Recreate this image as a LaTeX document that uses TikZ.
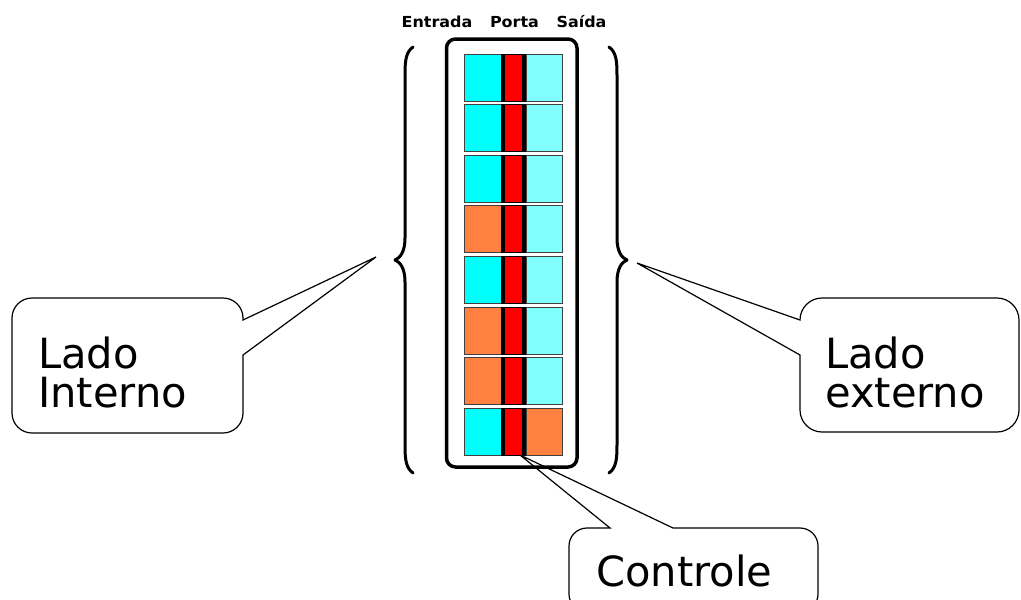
\documentclass[tikz,border=0pt]{standalone}
\usepackage{fontspec}
\setmainfont{DejaVu Sans}
\newfontfamily\hdrfont[FakeStretch=1.05]{DejaVu Sans}
\begin{document}
\begin{tikzpicture}[x=1pt,y=-1pt,
  cell/.style={draw=black!75,line width=0.8pt,minimum width=#1,minimum height=47pt,inner sep=0pt},
  gatebox/.style={draw=black,line width=0.8pt,fill=red,minimum width=24pt,minimum height=47pt,inner sep=0pt},
  bubble/.style={draw=black,line width=1.2pt,fill=white,line join=miter},
  bigtext/.style={font=\fontsize{41.6}{46}\selectfont,inner sep=0pt},
  hdr/.style={font=\hdrfont\bfseries\fontsize{15.2}{17}\selectfont,inner sep=0pt,anchor=base},
  bracestroke/.style={line width=3pt,line cap=round,line join=round},
]
\definecolor{cyanA}{RGB}{0,255,255}
\definecolor{cyanB}{RGB}{128,255,255}
\definecolor{orangeC}{RGB}{255,128,64}

\useasboundingbox[fill=white] (0,0) rectangle (1021,600);
\clip (0,0) rectangle (1021,600);

% callout outlines
\draw[bubble] (243,355) [rounded corners=20pt] -- (243,433) -- (12,433) -- (12,298)
  -- (243,298) [sharp corners] -- (243,320) -- (376,257) -- cycle;
\draw[bubble] (800,355) [rounded corners=22pt] -- (800,432) -- (1019,432) -- (1019,298)
  -- (800,298) [sharp corners] -- (800,320) -- (637,263) -- cycle;
\coordinate (ctip) at (520,455);
\draw[bubble] (673,528) [rounded corners=18pt] -- (818,528) -- (818,612) -- (569,612)
  -- (569,528) [sharp corners] -- (610,528) -- (ctip) -- cycle;

% callout texts
\node[bigtext,anchor=base west] (lin1) at (38,368) {Lado};
\node[bigtext,anchor=base west] (lin2) at (38,407) {Interno};
\node[bigtext,anchor=base west] (lex1) at (825,368) {Lado};
\node[bigtext,anchor=base west] (lex2) at (825,407) {externo};
\node[bigtext,anchor=base west] (ctl) at (596,586) {Controle};

% column headers
\node[hdr] (hin) at (437,27) {Entrada};
\node[hdr] (hgate) at (514.5,27) {Porta};
\node[hdr] (hout) at (581.5,27) {Saída};

% frame around the port column
\draw[line width=3.5pt,rounded corners=9pt] (446.5,39) rectangle (577,467);

% rows of cells: input, gate, output
\foreach \i/\l/\r in {1/cyanA/cyanB,2/cyanA/cyanB,3/cyanA/cyanB,4/orangeC/cyanB,
                      5/cyanA/cyanB,6/orangeC/cyanB,7/orangeC/cyanB,8/cyanA/orangeC}{
  \pgfmathsetmacro\yc{54+50.6*(\i-1)+23.5}
  \node[cell=38pt,fill=\l] (in\i) at (483,\yc) {};
  \node[cell=36pt,fill=\r] (out\i) at (544,\yc) {};
  \node[gatebox] (gate\i) at (513.5,\yc) {};
  \fill[black] (gate\i.north west) rectangle ([xshift=3.5pt]gate\i.south west);
  \fill[black] ([xshift=-3.5pt]gate\i.north east) rectangle (gate\i.south east);
}

% braces
\draw[bracestroke] (413,47) .. controls (406,52) and (405,60) .. (405,75) -- (405,238)
  .. controls (405,252) and (400,258) .. (395,260)
  .. controls (400,262) and (405,268) .. (405,282) -- (405,445)
  .. controls (405,460) and (406,468) .. (413,473);
\draw[bracestroke] (609,47) .. controls (616,52) and (617,60) .. (617,75) -- (617,238)
  .. controls (617,252) and (622,258) .. (627,260)
  .. controls (622,262) and (617,268) .. (617,282) -- (617,445)
  .. controls (617,460) and (616,468) .. (609,473);
\end{tikzpicture}
\end{document}
